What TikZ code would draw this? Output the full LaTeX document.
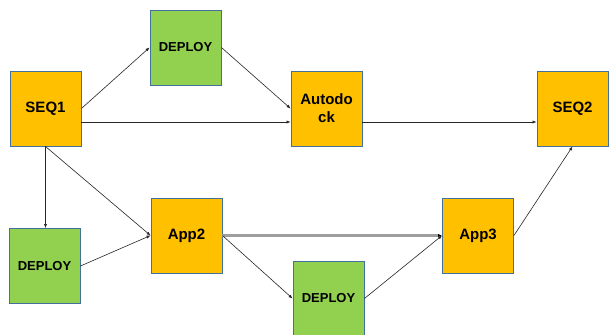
\documentclass[tikz,border=0pt]{standalone}
\usepackage{fontspec}
\setmainfont{Liberation Sans}
\usetikzlibrary{arrows.meta}
\definecolor{boxorange}{HTML}{FFC000}
\definecolor{boxgreen}{HTML}{92D050}
\definecolor{boxline}{HTML}{41719C}
\definecolor{flowgray}{HTML}{9E9E9E}
\tikzset{
  appbox/.style={draw=boxline, line width=0.9bp, fill=boxorange, minimum width=71bp, minimum height=75bp, inner sep=0pt, align=center, font=\fontsize{15bp}{18bp}\selectfont\bfseries},
  depbox/.style={draw=boxline, line width=0.9bp, fill=boxgreen, minimum width=71bp, minimum height=75bp, inner sep=0pt, align=center, font=\fontsize{13bp}{15bp}\selectfont\bfseries},
  flow/.style={draw=black!85, line width=0.6bp, -{Latex[length=4bp,width=3.2bp]}},
  grayflow/.style={draw=flowgray, line width=2.2bp, -{Latex[length=4bp,width=3.2bp,color=black]}}
}
\begin{document}
\begin{tikzpicture}[x=1bp,y=-1bp]
\useasboundingbox (0,0) rectangle (611,334);
\clip (0,0) rectangle (611,334);
\fill[white] (0,0) rectangle (611,334);
\node[appbox] (seq1) at (45.5,108.5) {SEQ1};
\node[depbox] (dep1) at (185.5,47.5) {DEPLOY};
\node[appbox] (auto) at (326.5,108.5) {Autodo\\ck};
\node[appbox] (seq2) at (572.5,108.5) {SEQ2};
\node[depbox] (dep2) at (44.5,266) {DEPLOY};
\node[appbox] (app2) at (186.5,235.5) {App2};
\node[depbox] (dep3) at (328.5,298.5) {DEPLOY};
\node[appbox] (app3) at (478,235.5) {App3};
\draw[flow] (seq1.east) -- (dep1.west);
\draw[flow] (dep1.east) -- (auto.west);
\draw[flow] ([yshift=-13.5bp]seq1.east) -- ([yshift=-13.5bp]auto.west);
\draw[flow] ([yshift=-13.5bp]auto.east) -- ([yshift=-13.5bp]seq2.west);
\draw[flow] (seq1.south) -- (seq1.south |- dep2.north);
\draw[flow] (seq1.south) -- (app2.west);
\draw[flow] (dep2.east) -- (app2.west);
\draw[grayflow] (app2.east) -- (app3.west);
\draw[flow] (app2.east) -- (dep3.west);
\draw[flow] (dep3.east) -- (app3.west);
\draw[flow] (app3.east) -- (seq2.south);
\end{tikzpicture}
\end{document}
